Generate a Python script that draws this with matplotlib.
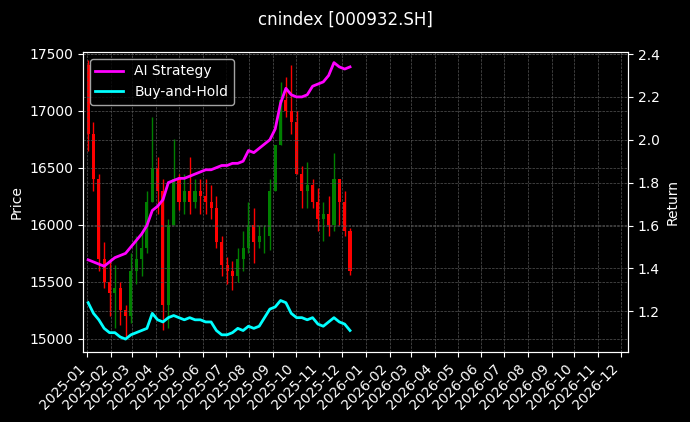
import matplotlib.pyplot as plt
import matplotlib.dates as mdates
import numpy as np
import pandas as pd

dates = pd.date_range('2025-01-02', periods=50, freq='7D')
opens = [17400, 16800, 16400, 15700, 15500, 15400, 15450, 15250, 15200, 15600,
         15700, 15800, 16200, 16500, 16300, 15300, 16000, 16400, 16200, 16300,
         16200, 16300, 16250, 16200, 16150, 15850, 15650, 15600, 15550, 15700,
         15800, 16000, 15850, 15900, 15900, 16300, 16700, 17100, 17000, 16900,
         16450, 16300, 16350, 16200, 16050, 16100, 16000, 16400, 16200, 15950]
closes = [16800, 16400, 15700, 15500, 15400, 15450, 15250, 15200, 15600, 15700,
          15800, 16200, 16500, 16300, 15300, 16000, 16400, 16200, 16300, 16200,
          16300, 16250, 16200, 16150, 15850, 15650, 15600, 15550, 15700, 15800,
          16000, 15850, 15900, 15900, 16300, 16700, 17100, 17000, 16900, 16450,
          16300, 16350, 16200, 16050, 16100, 16000, 16400, 16200, 15950, 15600]
highs = [17450, 16900, 16450, 15850, 15700, 15650, 15500, 15300, 15750, 15900,
         15950, 16300, 16950, 16600, 16400, 16050, 16750, 16450, 16450, 16600,
         16400, 16400, 16400, 16350, 16250, 15900, 15720, 15680, 15800, 15950,
         16200, 16150, 16000, 16000, 16400, 16700, 17250, 17300, 17400, 17000,
         16520, 16550, 16400, 16320, 16200, 16250, 16630, 16400, 16300, 15970]
lows = [16650, 16300, 15600, 15450, 15200, 15100, 15120, 15000, 15140, 15480,
        15550, 15750, 16200, 16100, 15080, 15100, 16000, 16130, 16100, 16100,
        16150, 16100, 16100, 16050, 15800, 15550, 15480, 15430, 15500, 15600,
        15750, 15670, 15800, 15750, 15780, 16300, 16700, 16950, 16800, 16450,
        16150, 16150, 16150, 15950, 15860, 15900, 15950, 16000, 15900, 15560]
ai_strategy = [1.44, 1.43, 1.42, 1.41, 1.43, 1.45, 1.46, 1.47, 1.50, 1.53,
               1.56, 1.60, 1.67, 1.69, 1.72, 1.80, 1.81, 1.82, 1.82, 1.83,
               1.84, 1.85, 1.86, 1.86, 1.87, 1.88, 1.88, 1.89, 1.89, 1.90,
               1.95, 1.94, 1.96, 1.98, 2.00, 2.05, 2.17, 2.24, 2.21, 2.20,
               2.20, 2.21, 2.25, 2.26, 2.27, 2.30, 2.36, 2.34, 2.33, 2.34]
buy_hold = [1.24, 1.19, 1.16, 1.12, 1.10, 1.10, 1.08, 1.07, 1.09, 1.10,
            1.11, 1.12, 1.19, 1.16, 1.15, 1.17, 1.18, 1.17, 1.16, 1.17,
            1.16, 1.16, 1.15, 1.15, 1.11, 1.09, 1.09, 1.10, 1.12, 1.11,
            1.13, 1.12, 1.13, 1.17, 1.21, 1.22, 1.25, 1.24, 1.19, 1.17,
            1.17, 1.16, 1.17, 1.14, 1.13, 1.15, 1.17, 1.15, 1.14, 1.11]

plt.style.use('dark_background')
fig = plt.figure(figsize=(6.9, 4.22), dpi=100)
ax = fig.add_axes([0.12, 0.166, 0.79, 0.711])
ax2 = ax.twinx()

for d, o, c, h, l in zip(dates, opens, closes, highs, lows):
    col = 'green' if c >= o else 'red'
    ax.vlines(d, l, h, color=col, lw=1)
    ax.bar(d, c - o, bottom=o, width=4, color=col, lw=0)

ax2.plot(dates, ai_strategy, color='magenta', lw=2, label='AI Strategy')
ax2.plot(dates, buy_hold, color='cyan', lw=2, label='Buy-and-Hold')

ax.set_ylim(14886, 17518)
ax2.set_ylim(1.01, 2.41)
ax.set_xlim(pd.Timestamp('2024-12-26'), pd.Timestamp('2026-12-10'))
ax.xaxis.set_major_locator(mdates.MonthLocator())
ax.xaxis.set_major_formatter(mdates.DateFormatter('%Y-%m'))
plt.setp(ax.get_xticklabels(), rotation=45, ha='right')
ax.set_ylabel('Price')
ax2.set_ylabel('Return')
ax.grid(True, ls='--', lw=0.5, color='#555555')
ax2.grid(True, ls='--', lw=0.5, color='#555555')
ax2.legend(loc='upper left')
fig.suptitle('cnindex [000932.SH]', y=0.975)

plt.savefig('out.png')
